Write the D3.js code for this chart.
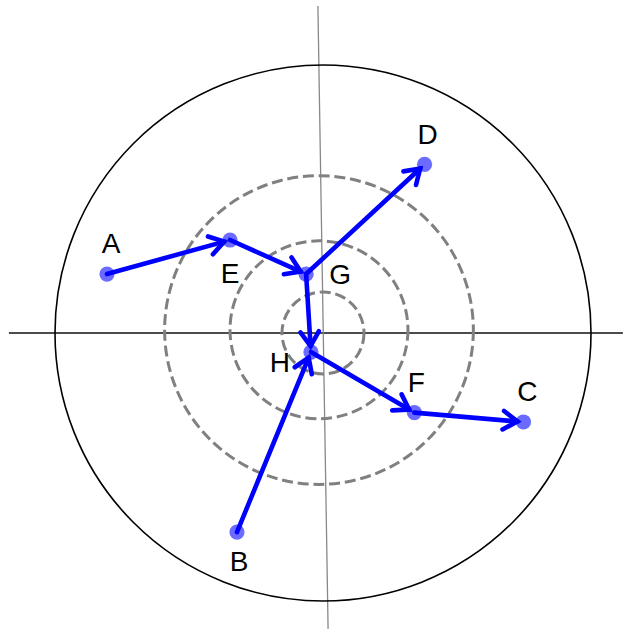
<!DOCTYPE html>
<html>
<head>
<meta charset="utf-8">
<script src="https://cdn.jsdelivr.net/npm/d3@7"></script>
<style>
  html, body { margin: 0; padding: 0; background: #fff; }
  svg { display: block; }
  text { font-family: "Liberation Sans", Arial, sans-serif; }
</style>
</head>
<body>
<div id="chart"></div>
<script>
// point names and positions (data units, outer circle has radius 10)
const names = ["A", "B", "C", "D", "E", "F", "G", "H"];
const xs = [-8.06, -3.21, 7.48, 3.79, -3.47, 3.41, -0.63, -0.45];
const ys = [2.20, -7.43, -3.32, 6.29, 3.47, -2.97, 2.20, -0.71];

// arrows: from -> to
const edgeFrom = ["A", "E", "G", "G", "B", "H", "F"];
const edgeTo   = ["E", "G", "D", "H", "H", "F", "C"];

// dashed rings (centre x, centre y, radius)
const ringCx = [0, -0.15, -0.15];
const ringCy = [0, 0.12, 0.11];
const ringR  = [1.53, 3.32, 5.76];

const outerR = 10;

const width = 623, height = 629;

const x = d3.scaleLinear().domain([-10, 10]).range([55, 591]);
const y = d3.scaleLinear().domain([-10, 10]).range([601, 65]);
const unit = x(1) - x(0);

const svg = d3.select("#chart").append("svg")
    .attr("width", width)
    .attr("height", height);

// axis lines
svg.append("line")
    .attr("x1", x(-11.72)).attr("y1", y(0))
    .attr("x2", x(11.19)).attr("y2", y(0))
    .attr("stroke", "#111")
    .attr("stroke-width", 1.3);

svg.append("line")
    .attr("x1", x(-0.19)).attr("y1", y(12.2))
    .attr("x2", x(0.19)).attr("y2", y(-11.04))
    .attr("stroke", "#888")
    .attr("stroke-width", 1.3);

// outer circle
svg.append("circle")
    .attr("cx", x(0)).attr("cy", y(0))
    .attr("r", outerR * unit)
    .attr("fill", "none")
    .attr("stroke", "#000")
    .attr("stroke-width", 1.6);

// dashed rings
svg.selectAll(".ring")
    .data(ringR.map((r, i) => ({cx: ringCx[i], cy: ringCy[i], r})))
    .enter().append("circle")
    .attr("class", "ring")
    .attr("cx", d => x(d.cx))
    .attr("cy", d => y(d.cy))
    .attr("r", d => d.r * unit)
    .attr("fill", "none")
    .attr("stroke", "#808080")
    .attr("stroke-width", 3)
    .attr("stroke-dasharray", "11,4.8");

const pts = {};
names.forEach((n, i) => { pts[n] = {name: n, px: x(xs[i]), py: y(ys[i])}; });

// arrows
const shrink = 6, headLen = 17, headAng = 33 * Math.PI / 180;
const edges = edgeFrom.map((f, i) => {
  const s = pts[f], t = pts[edgeTo[i]];
  const dx = t.px - s.px, dy = t.py - s.py;
  const len = Math.hypot(dx, dy);
  const ux = dx / len, uy = dy / len;
  const tx = t.px - ux * shrink, ty = t.py - uy * shrink;
  const back = Math.atan2(-uy, -ux);
  const l1 = [tx + headLen * Math.cos(back + headAng), ty + headLen * Math.sin(back + headAng)];
  const l2 = [tx + headLen * Math.cos(back - headAng), ty + headLen * Math.sin(back - headAng)];
  return {sx: s.px, sy: s.py, tx, ty, l1, l2};
});

const arrows = svg.selectAll(".arrow")
    .data(edges)
    .enter().append("g")
    .attr("class", "arrow");

arrows.append("line")
    .attr("x1", d => d.sx).attr("y1", d => d.sy)
    .attr("x2", d => d.tx).attr("y2", d => d.ty)
    .attr("stroke", "#0000ff")
    .attr("stroke-width", 4.6)
    .attr("stroke-linecap", "round");

arrows.append("path")
    .attr("d", d => `M${d.l1[0]},${d.l1[1]}L${d.tx},${d.ty}L${d.l2[0]},${d.l2[1]}`)
    .attr("fill", "none")
    .attr("stroke", "#0000ff")
    .attr("stroke-width", 4.6)
    .attr("stroke-linejoin", "miter")
    .attr("stroke-linecap", "round");

// dots
svg.selectAll(".dot")
    .data(Object.values(pts))
    .enter().append("circle")
    .attr("class", "dot")
    .attr("cx", d => d.px)
    .attr("cy", d => d.py)
    .attr("r", 7.6)
    .attr("fill", "#0000ff")
    .attr("fill-opacity", 0.58);

// label placement relative to each dot (px)
const labelOffset = {
  A: [4, -21], B: [2, 39], C: [4, -21], D: [3, -20],
  E: [0, 43], F: [2, -21], G: [34, 10], H: [-31, 20]
};

svg.selectAll(".label")
    .data(Object.values(pts))
    .enter().append("text")
    .attr("class", "label")
    .attr("x", d => d.px + labelOffset[d.name][0])
    .attr("y", d => d.py + labelOffset[d.name][1])
    .attr("text-anchor", "middle")
    .attr("font-size", 28)
    .attr("fill", "#000")
    .text(d => d.name);
</script>
</body>
</html>
